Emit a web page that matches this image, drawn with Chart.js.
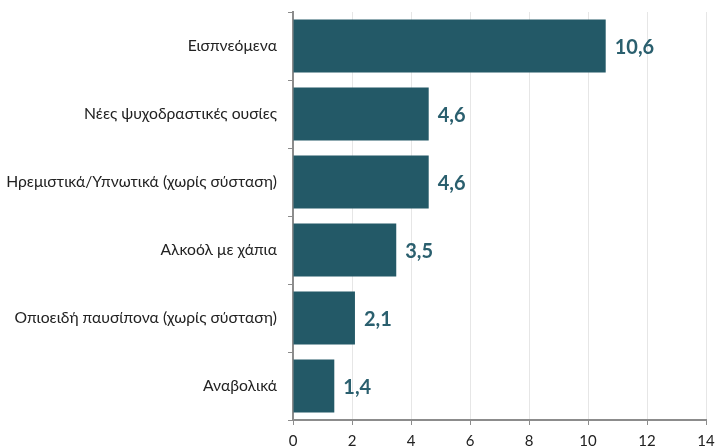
<!DOCTYPE html>
<html>
<head>
<meta charset="utf-8">
<script src="https://cdn.jsdelivr.net/npm/chart.js@4.4.1/dist/chart.umd.min.js"></script>
<style>
html,body{margin:0;padding:0;background:#fff;}
#wrap{width:723px;height:447px;position:relative;}
</style>
</head>
<body>
<div id="wrap"><canvas id="c" width="723" height="447"></canvas></div>
<script>
const categories = [
  "Εισπνεόμενα",
  "Νέες ψυχοδραστικές ουσίες",
  "Ηρεμιστικά/Υπνωτικά (χωρίς σύσταση)",
  "Αλκοόλ με χάπια",
  "Οπιοειδή παυσίπονα (χωρίς σύσταση)",
  "Αναβολικά"
];
const values = [10.6, 4.6, 4.6, 3.5, 2.1, 1.4];
const xTicks = [0, 2, 4, 6, 8, 10, 12, 14];

const FONT = "Lato, 'Open Sans', sans-serif";

const valueLabels = {
  id: 'valueLabels',
  afterDatasetsDraw(chart) {
    const ctx = chart.ctx;
    const meta = chart.getDatasetMeta(0);
    ctx.save();
    ctx.font = "bold 20px " + FONT;
    ctx.fillStyle = "#2a5f6e";
    ctx.textAlign = "left";
    ctx.textBaseline = "middle";
    meta.data.forEach((bar, i) => {
      const txt = values[i].toFixed(1).replace('.', ',');
      ctx.fillText(txt, bar.x + 9, bar.y + 2);
    });
    ctx.restore();
  }
};

new Chart(document.getElementById('c'), {
  type: 'bar',
  data: {
    labels: categories,
    datasets: [{
      data: values,
      backgroundColor: '#235967',
      borderWidth: 0,
      barPercentage: 0.78,
      categoryPercentage: 1.0
    }]
  },
  options: {
    indexAxis: 'y',
    responsive: false,
    animation: false,
    layout: { padding: { top: 12, right: 17, left: 0, bottom: 0 } },
    plugins: { legend: { display: false }, tooltip: { enabled: false } },
    scales: {
      x: {
        min: 0, max: 14,
        afterBuildTicks(scale) { scale.ticks = xTicks.map(v => ({ value: v })); },
        afterFit(scale) { scale.height = 27; },
        grid: { color: '#e6e6e6', lineWidth: 1, drawTicks: true, tickLength: 5, tickColor: '#8c8c8c' },
        border: { color: '#8c8c8c', width: 2 },
        ticks: { font: { family: FONT, size: 15 }, color: '#222', padding: 7 }
      },
      y: {
        afterFit(scale) { scale.width = 293; scale.paddingTop = 0; scale.paddingBottom = 0; },
        grid: { drawOnChartArea: false, drawTicks: true, tickLength: 5, tickColor: '#8c8c8c', offset: true },
        border: { color: '#8c8c8c', width: 2 },
        ticks: { font: { family: FONT, size: 15.7 }, color: '#222', padding: 11 }
      }
    }
  },
  plugins: [valueLabels]
});
</script>
</body>
</html>
